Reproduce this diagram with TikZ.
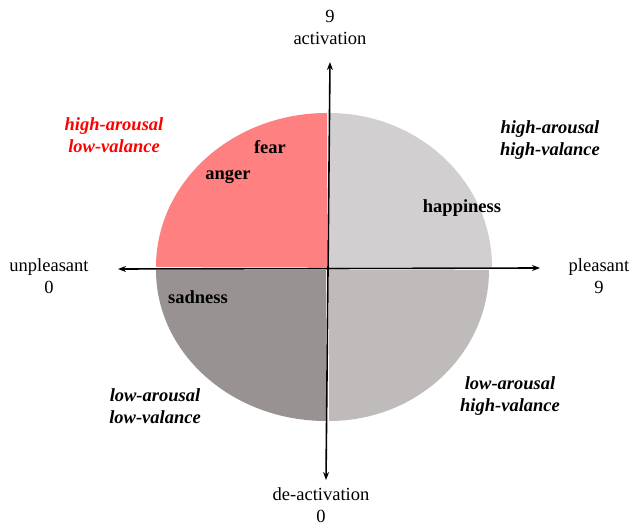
\documentclass[tikz,border=0pt]{standalone}
\usepackage{fontspec}
\setmainfont{Liberation Serif}
\usetikzlibrary{arrows.meta}
\definecolor{qred}{HTML}{FF8080}
\definecolor{qlight}{HTML}{D1CFD0}
\definecolor{qdark}{HTML}{989392}
\definecolor{qmid}{HTML}{BFBBBA}
\definecolor{lred}{HTML}{FF0000}
\tikzset{
  lbl/.style={inner sep=0pt, align=center, font=\fontsize{18.5}{22}\selectfont},
  emo/.style={inner sep=0pt, font=\fontsize{18.5}{22}\selectfont\bfseries},
  quad/.style={inner sep=0pt, align=center, font=\fontsize{18.5}{22}\selectfont\bfseries\itshape},
  axis/.style={line width=1.6pt, {Stealth[length=8pt,width=6pt]}-{Stealth[length=8pt,width=6pt]}}
}
\begin{document}
\begin{tikzpicture}[x=1pt,y=-1pt]
\useasboundingbox (0,0) rectangle (629,526);
% quadrants
\fill[qred] (327,267) -- (156,267) arc[start angle=180,end angle=270,x radius=171,y radius=154] -- cycle;
\fill[qlight] (329,267) -- (329,113) arc[start angle=270,end angle=360,x radius=163,y radius=154] -- cycle;
\fill[qmid] (329,270) -- (489,270) arc[start angle=0,end angle=90,x radius=160,y radius=151] -- cycle;
\fill[qdark] (326,270) -- (326,421) arc[start angle=90,end angle=180,x radius=170,y radius=151] -- cycle;
% axes
\coordinate (atop) at (330,62);
\coordinate (abot) at (326,480);
\coordinate (aleft) at (118,269);
\coordinate (aright) at (540,268);
\draw[axis] (atop) -- (abot);
\draw[axis] (aleft) -- (aright);
% axis labels
\node[lbl] (act) at (330,27) {9\\activation};
\node[lbl] (deact) at (321,505) {de-activation\\0};
\node[lbl] (unpl) at (49,276) {unpleasant\\0};
\node[lbl] (pl) at (599,276) {pleasant\\9};
% emotions
\node[emo] (fear) at (270,147) {fear};
\node[emo] (anger) at (228,177) {anger};
\node[emo] (happy) at (462,208) {happiness};
\node[emo] (sad) at (198,297) {sadness};
% quadrant labels
\node[quad, text=lred] (hl) at (114,135) {high-arousal\\low-valance};
\node[quad] (hh) at (550,140) {high-arousal\\high-valance};
\node[quad] (ll) at (155,406) {low-arousal\\low-valance};
\node[quad] (lh) at (510,396) {low-arousal\\high-valance};
\end{tikzpicture}
\end{document}
